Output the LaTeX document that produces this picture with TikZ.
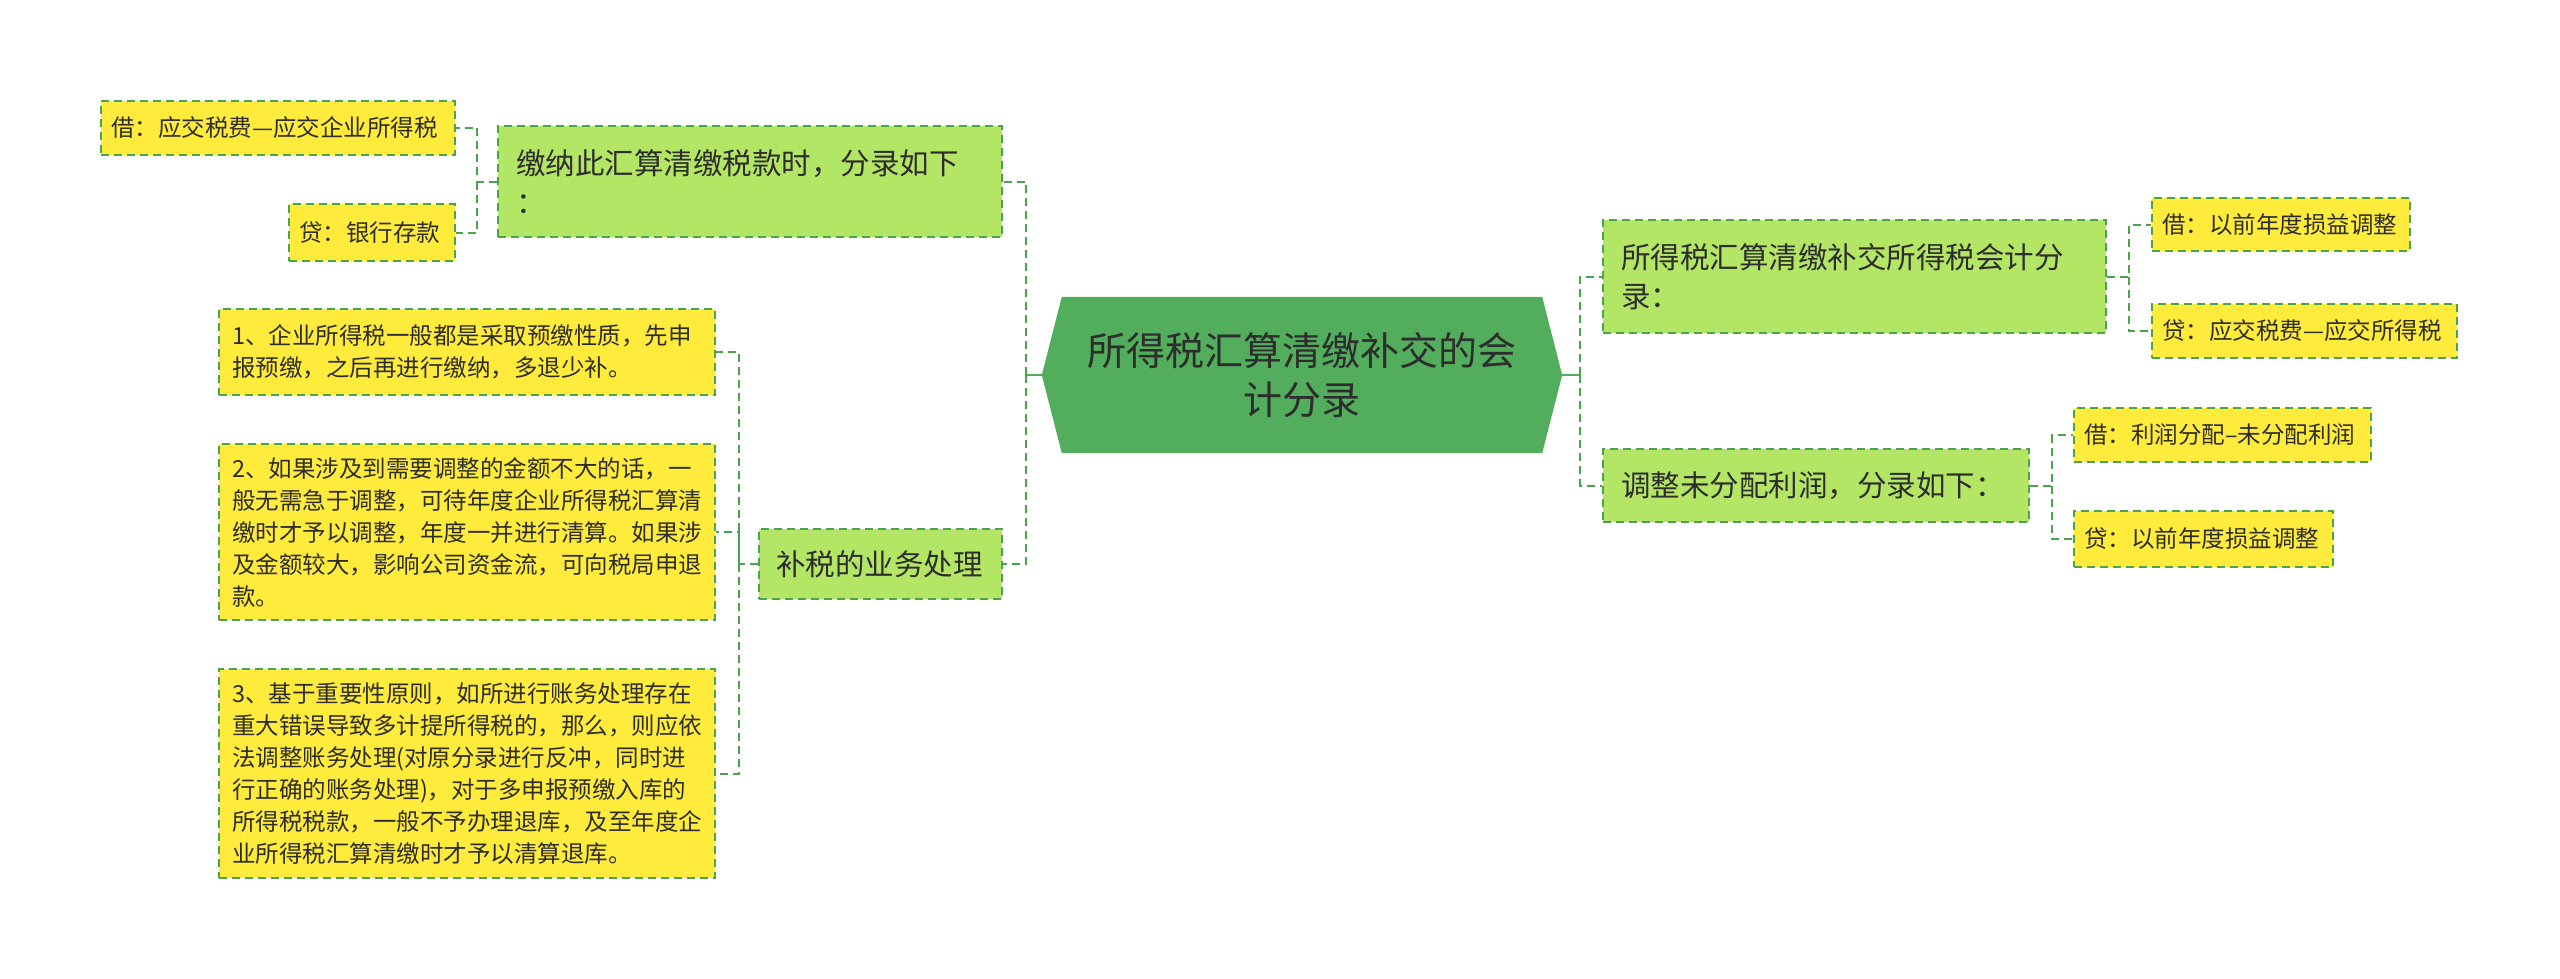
\documentclass[tikz,border=0pt]{standalone}
\usepackage{fontspec}
\setmainfont{Noto Sans CJK SC}
\usetikzlibrary{backgrounds}

\definecolor{rootgreen}{RGB}{82,174,92}
\definecolor{branchgreen}{RGB}{180,230,102}
\definecolor{leafyellow}{RGB}{255,235,59}
\definecolor{dashgreen}{RGB}{76,163,76}
\definecolor{inkgray}{RGB}{45,45,45}

\tikzset{
  box/.style={draw=dashgreen, line width=2pt, dash pattern=on 8pt off 5pt, inner ysep=0pt, align=left, text=inkgray, anchor=center},
  branch/.style={box, fill=branchgreen, font=\fontsize{29.5}{39}\selectfont},
  leaf/.style={box, fill=leafyellow, font=\fontsize{23.5}{32}\selectfont},
  link/.style={draw=dashgreen, line width=2pt, dash pattern=on 8pt off 5pt},
  stub/.style={draw=rootgreen, line width=2.5pt},
}

\begin{document}
\begin{tikzpicture}[x=1pt,y=-1pt]
\useasboundingbox (0,0) rectangle (2560,979);

% centre
\node[text=inkgray, align=center, font=\fontsize{39}{49}\selectfont, minimum width=520pt, minimum height=156pt, inner sep=0pt] (root) at (1302,375) {所得税汇算清缴补交的会\\计分录};
\begin{pgfonlayer}{background}
\fill[rootgreen] (root.west) -- ([xshift=20pt]root.north west) -- ([xshift=-20pt]root.north east) -- (root.east) -- ([xshift=-20pt]root.south east) -- ([xshift=20pt]root.south west) -- cycle;
\end{pgfonlayer}

% left side
\node[branch, text width=468pt, inner xsep=18pt, minimum height=111pt] (pay) at (750,181.5) {缴纳此汇算清缴税款时，分录如下\\：};
\node[branch, text width=209pt, inner xsep=17pt, minimum height=70pt] (extra) at (880.5,564) {补税的业务处理};

\node[leaf, text width=334pt, inner xsep=10pt, minimum height=54pt] (payDr) at (278,128) {借：应交税费—应交企业所得税};
\node[leaf, text width=146pt, inner xsep=10pt, minimum height=57pt] (payCr) at (372,232.5) {贷：银行存款};

\node[leaf, text width=470pt, inner xsep=13pt, minimum height=86pt] (note1) at (467,352) {1、企业所得税一般都是采取预缴性质，先申\\报预缴，之后再进行缴纳，多退少补。};
\node[leaf, text width=470pt, inner xsep=13pt, minimum height=176pt] (note2) at (467,532) {2、如果涉及到需要调整的金额不大的话，一\\般无需急于调整，可待年度企业所得税汇算清\\缴时才予以调整，年度一并进行清算。如果涉\\及金额较大，影响公司资金流，可向税局申退\\款。};
\node[leaf, text width=470pt, inner xsep=13pt, minimum height=209pt] (note3) at (467,773.5) {3、基于重要性原则，如所进行账务处理存在\\重大错误导致多计提所得税的，那么，则应依\\法调整账务处理(对原分录进行反冲，同时进\\行正确的账务处理)，对于多申报预缴入库的\\所得税税款，一般不予办理退库，及至年度企\\业所得税汇算清缴时才予以清算退库。};

% right side
\node[branch, text width=467pt, inner xsep=18pt, minimum height=113pt] (entry) at (1854.5,276.5) {所得税汇算清缴补交所得税会计分\\录：};
\node[branch, text width=390pt, inner xsep=18pt, minimum height=73pt] (profit) at (1816,485.5) {调整未分配利润，分录如下：};

\node[leaf, text width=238pt, inner xsep=10pt, minimum height=53pt] (entryDr) at (2281,224.5) {借：以前年度损益调整};
\node[leaf, text width=285pt, inner xsep=10pt, minimum height=54pt] (entryCr) at (2304.5,331) {贷：应交税费—应交所得税};
\node[leaf, text width=277pt, inner xsep=10pt, minimum height=54pt] (profitDr) at (2222.5,435) {借：利润分配–未分配利润};
\node[leaf, text width=239pt, inner xsep=10pt, minimum height=56pt] (profitCr) at (2203.5,539) {贷：以前年度损益调整};

% junctions
\coordinate (jl) at (1026,375);
\coordinate (jr) at (1580,375);
\coordinate (jpay) at (477,181.5);
\coordinate (jextra) at (739,564);
\coordinate (jentry) at (2129,276.5);
\coordinate (jprofit) at (2052,485.5);

\draw[stub] (root.west) -- (jl);
\draw[stub] (root.east) -- (jr);
\draw[link] (jl) |- (pay.east);
\draw[link] (jl) |- (extra.east);
\draw[link] (jr) |- (entry.west);
\draw[link] (jr) |- (profit.west);

\draw[link] (pay.west) -- (jpay) |- (payDr.east);
\draw[link] (jpay) |- (payCr.east);
\draw[link] (extra.west) -- (jextra) |- (note1.east);
\draw[link] (jextra) |- (note2.east);
\draw[link] (jextra) |- (note3.east);
\draw[link] (entry.east) -- (jentry) |- (entryDr.west);
\draw[link] (jentry) |- (entryCr.west);
\draw[link] (profit.east) -- (jprofit) |- (profitDr.west);
\draw[link] (jprofit) |- (profitCr.west);
\end{tikzpicture}
\end{document}
